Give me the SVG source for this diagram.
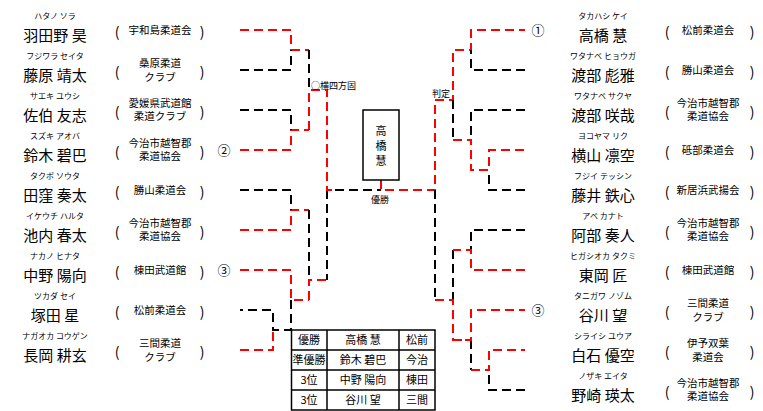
<svg xmlns="http://www.w3.org/2000/svg" width="763" height="411" viewBox="0 0 763 411">
<style>
text{font-family:"Noto Sans CJK JP","Noto Sans",sans-serif;fill:#000}
.kana{font-size:8px;text-anchor:middle}
.name{font-size:15px;text-anchor:middle}
.club{font-size:10.5px;text-anchor:middle}
.par{font-size:14px;text-anchor:middle}
.circ{font-size:13px;text-anchor:middle}
.lbl{font-size:9px}
.tbl{font-size:11px;text-anchor:middle}
.r{stroke:#f00;stroke-width:2;fill:none;stroke-dasharray:9 5}
.k{stroke:#000;stroke-width:2;fill:none;stroke-dasharray:9 5}
.box{fill:#fff;stroke:#000;stroke-width:1.5}
.grid{stroke:#000;stroke-width:1.5;fill:none}
</style>
<rect width="763" height="411" fill="#fff"/>

<g id="L1"><text class="kana" x="55" y="18.5">ハタノ ソラ</text><text class="name" x="55" y="41">羽田野 昊</text><text class="par" x="117" y="37">(</text><text class="club" x="160" y="34">宇和島柔道会</text><text class="par" x="202" y="37">)</text></g>
<g id="L2"><text class="kana" x="55" y="58.5">フジワラ セイタ</text><text class="name" x="55" y="81">藤原 靖太</text><text class="par" x="117" y="77">(</text><text class="club" x="160" y="67">桑原柔道</text><text class="club" x="160" y="81">クラブ</text><text class="par" x="202" y="77">)</text></g>
<g id="L3"><text class="kana" x="55" y="98.5">サエキ ユウシ</text><text class="name" x="55" y="121">佐伯 友志</text><text class="par" x="117" y="117">(</text><text class="club" x="160" y="106.5">愛媛県武道館</text><text class="club" x="160" y="120">柔道クラブ</text><text class="par" x="202" y="117">)</text></g>
<g id="L4"><text class="kana" x="55" y="138.5">スズキ アオバ</text><text class="name" x="55" y="161">鈴木 碧巴</text><text class="par" x="117" y="157">(</text><text class="club" x="160" y="146.5">今治市越智郡</text><text class="club" x="160" y="160">柔道協会</text><text class="par" x="202" y="157">)</text><text class="circ" x="224" y="155">②</text></g>
<g id="L5"><text class="kana" x="55" y="178.5">タクボ ソウタ</text><text class="name" x="55" y="201">田窪 奏太</text><text class="par" x="117" y="197">(</text><text class="club" x="160" y="194">勝山柔道会</text><text class="par" x="202" y="197">)</text></g>
<g id="L6"><text class="kana" x="55" y="218.5">イケウチ ハルタ</text><text class="name" x="55" y="241">池内 春太</text><text class="par" x="117" y="237">(</text><text class="club" x="160" y="226.5">今治市越智郡</text><text class="club" x="160" y="240">柔道協会</text><text class="par" x="202" y="237">)</text></g>
<g id="L7"><text class="kana" x="55" y="258.5">ナカノ ヒナタ</text><text class="name" x="55" y="281">中野 陽向</text><text class="par" x="117" y="277">(</text><text class="club" x="160" y="274">棟田武道館</text><text class="par" x="202" y="277">)</text><text class="circ" x="224" y="275">③</text></g>
<g id="L8"><text class="kana" x="55" y="298.5">ツカダ セイ</text><text class="name" x="55" y="321">塚田 星</text><text class="par" x="117" y="317">(</text><text class="club" x="160" y="314">松前柔道会</text><text class="par" x="202" y="317">)</text></g>
<g id="L9"><text class="kana" x="55" y="338.5">ナガオカ コウゲン</text><text class="name" x="55" y="361">長岡 耕玄</text><text class="par" x="117" y="357">(</text><text class="club" x="160" y="347">三間柔道</text><text class="club" x="160" y="361">クラブ</text><text class="par" x="202" y="357">)</text></g>

<g id="R1"><text class="kana" x="603" y="18.5">タカハシ ケイ</text><text class="name" x="603" y="41">高橋 慧</text><text class="par" x="667" y="37">(</text><text class="club" x="708" y="34">松前柔道会</text><text class="par" x="752" y="37">)</text><text class="circ" x="538" y="35">①</text></g>
<g id="R2"><text class="kana" x="603" y="58.5">ワタナベ ヒョウガ</text><text class="name" x="603" y="81">渡部 彪雅</text><text class="par" x="667" y="77">(</text><text class="club" x="708" y="74">勝山柔道会</text><text class="par" x="752" y="77">)</text></g>
<g id="R3"><text class="kana" x="603" y="98.5">ワタナベ サクヤ</text><text class="name" x="603" y="121">渡部 咲哉</text><text class="par" x="667" y="117">(</text><text class="club" x="708" y="106.5">今治市越智郡</text><text class="club" x="708" y="120">柔道協会</text><text class="par" x="752" y="117">)</text></g>
<g id="R4"><text class="kana" x="603" y="138.5">ヨコヤマ リク</text><text class="name" x="603" y="161">横山 凛空</text><text class="par" x="667" y="157">(</text><text class="club" x="708" y="154">砥部柔道会</text><text class="par" x="752" y="157">)</text></g>
<g id="R5"><text class="kana" x="603" y="178.5">フジイ テッシン</text><text class="name" x="603" y="201">藤井 鉄心</text><text class="par" x="667" y="197">(</text><text class="club" x="708" y="194">新居浜武揚会</text><text class="par" x="752" y="197">)</text></g>
<g id="R6"><text class="kana" x="603" y="218.5">アベ カナト</text><text class="name" x="603" y="241">阿部 奏人</text><text class="par" x="667" y="237">(</text><text class="club" x="708" y="226.5">今治市越智郡</text><text class="club" x="708" y="240">柔道協会</text><text class="par" x="752" y="237">)</text></g>
<g id="R7"><text class="kana" x="603" y="258.5">ヒガシオカ タクミ</text><text class="name" x="603" y="281">東岡 匠</text><text class="par" x="667" y="277">(</text><text class="club" x="708" y="274">棟田武道館</text><text class="par" x="752" y="277">)</text></g>
<g id="R8"><text class="kana" x="603" y="298.5">タニガワ ノゾム</text><text class="name" x="603" y="321">谷川 望</text><text class="par" x="667" y="317">(</text><text class="club" x="708" y="307">三間柔道</text><text class="club" x="708" y="321">クラブ</text><text class="par" x="752" y="317">)</text><text class="circ" x="538" y="315">③</text></g>
<g id="R9"><text class="kana" x="603" y="338.5">シライシ ユウア</text><text class="name" x="603" y="361">白石 優空</text><text class="par" x="667" y="357">(</text><text class="club" x="708" y="347">伊予双葉</text><text class="club" x="708" y="361">柔道会</text><text class="par" x="752" y="357">)</text></g>
<g id="R10"><text class="kana" x="603" y="378.5">ノザキ エイタ</text><text class="name" x="603" y="401">野崎 瑛太</text><text class="par" x="667" y="397">(</text><text class="club" x="708" y="386.5">今治市越智郡</text><text class="club" x="708" y="400">柔道協会</text><text class="par" x="752" y="397">)</text></g>

<g id="connectors">
<path class="r" d="M240 30H291V50M291 50H309M240 150H291V130H309M240 230H291V210H309M240 270H291V300H309M240 350H273V330"/>
<path class="k" d="M240 70H291V50M240 110H291V130M240 190H291V210M291 300V330H273V310H240"/>
<path class="k" d="M309 50V90M309 210V280M327 190V280"/>
<path class="r" d="M309 130V90H327V190H335M309 300V280H327"/>
<path class="k" d="M335 190H381"/>
<path class="r" d="M381 180V190H435V100H453V50H471V30H525"/>
<path class="k" d="M525 70H471V50M525 110H471V140M453 100V140M435 190V300M525 230H471V250M453 250V300M525 190H489V170M525 390H489V370M471 340V370"/>
<path class="r" d="M453 140H471V170H489V150H525M525 270H471V250H453M435 300H453V340H471V310H525M471 340M471 370H489V350H525M453 340H471"/>
</g>

<g id="labels">
<text class="lbl" x="311" y="89">○横四方固</text>
<text class="lbl" x="432" y="97">判定</text>
<text class="lbl" x="380" y="203" text-anchor="middle">優勝</text>
</g>

<g id="winner">
<rect class="box" x="363" y="110" width="36" height="70"/>
<text class="tbl" x="381" y="135">高</text>
<text class="tbl" x="381" y="150">橋</text>
<text class="tbl" x="381" y="165">慧</text>
</g>

<g id="results">
<rect x="291.5" y="330" width="143.5" height="80" fill="#fff" stroke="#000" stroke-width="1.5"/>
<path class="grid" d="M291.5 350H435M291.5 370H435M291.5 390H435M327 330V410M399 330V410"/>
<text class="tbl" x="309" y="344">優勝</text><text class="tbl" x="363" y="344">高橋 慧</text><text class="tbl" x="417" y="344">松前</text>
<text class="tbl" x="309" y="364">準優勝</text><text class="tbl" x="363" y="364">鈴木 碧巴</text><text class="tbl" x="417" y="364">今治</text>
<text class="tbl" x="309" y="384">3位</text><text class="tbl" x="363" y="384">中野 陽向</text><text class="tbl" x="417" y="384">棟田</text>
<text class="tbl" x="309" y="404">3位</text><text class="tbl" x="363" y="404">谷川 望</text><text class="tbl" x="417" y="404">三間</text>
</g>
</svg>
